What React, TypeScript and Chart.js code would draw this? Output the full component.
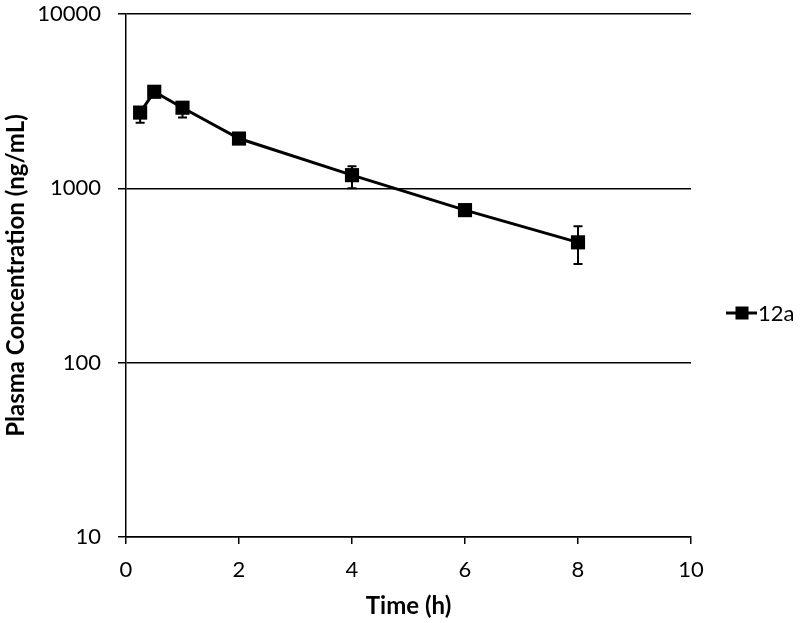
import React, { useEffect, useRef } from "react";
import { Chart, registerables } from "chart.js";

Chart.register(...registerables);

const times = [0.25, 0.5, 1, 2, 4, 6, 8];
const conc = [2720, 3580, 2900, 1930, 1190, 750, 490];
const errUpper = [2720, 3580, 2900, 1930, 1340, 750, 607];
const errLower = [2380, 3580, 2545, 1930, 1000, 750, 368];
const seriesLabel = "12a";
const yTicks = [10, 100, 1000, 10000];
const FONT = "Lato, 'Open Sans', sans-serif";

const errorBarPlugin = {
  id: "errorBars",
  afterDatasetsDraw(chart: any) {
    const { ctx, scales } = chart;
    const x = scales.x;
    const y = scales.y;
    ctx.save();
    ctx.strokeStyle = "#000";
    ctx.lineWidth = 2;
    times.forEach((t, i) => {
      const px = x.getPixelForValue(t);
      const pu = y.getPixelForValue(errUpper[i]);
      const pl = y.getPixelForValue(errLower[i]);
      if (Math.abs(pu - pl) < 1) return;
      ctx.beginPath();
      ctx.moveTo(px, pu);
      ctx.lineTo(px, pl);
      ctx.moveTo(px - 4.5, pu);
      ctx.lineTo(px + 4.5, pu);
      ctx.moveTo(px - 4.5, pl);
      ctx.lineTo(px + 4.5, pl);
      ctx.stroke();
    });
    ctx.restore();
  },
};

const legendPlugin = {
  id: "customLegend",
  afterDraw(chart: any) {
    const { ctx } = chart;
    const ly = 313;
    ctx.save();
    ctx.strokeStyle = "#000";
    ctx.lineWidth = 3;
    ctx.beginPath();
    ctx.moveTo(726, ly);
    ctx.lineTo(757, ly);
    ctx.stroke();
    ctx.fillStyle = "#000";
    ctx.fillRect(742 - 6.5, ly - 6.5, 13, 13);
    ctx.font = `22px ${FONT}`;
    ctx.textBaseline = "middle";
    ctx.textAlign = "left";
    ctx.fillText(chart.data.datasets[0].label, 758, ly + 1);
    ctx.restore();
  },
};

export default function App() {
  const ref = useRef<HTMLCanvasElement>(null);
  useEffect(() => {
    if (!ref.current) return;
    const chart = new Chart(ref.current, {
      type: "line",
      data: {
        datasets: [
          {
            label: seriesLabel,
            data: times.map((t, i) => ({ x: t, y: conc[i] })),
            borderColor: "#000",
            backgroundColor: "#000",
            borderWidth: 3,
            pointStyle: "rect",
            pointRadius: 10,
            pointBorderWidth: 0,
            tension: 0,
          },
        ],
      },
      options: {
        animation: false,
        responsive: false,
        layout: { padding: { top: 14, right: 109, left: 0, bottom: 0 } },
        plugins: { legend: { display: false }, tooltip: { enabled: false } },
        scales: {
          x: {
            type: "linear",
            min: 0,
            max: 10,
            ticks: { stepSize: 2, color: "#000", font: { family: FONT, size: 22 }, padding: 13, maxRotation: 0 },
            grid: { drawOnChartArea: false, drawTicks: true, tickLength: 7, color: "#000", lineWidth: 1.5 },
            border: { color: "#000", width: 1.5 },
            title: {
              display: true,
              text: "Time (h)",
              color: "#000",
              font: { family: FONT, size: 24, weight: "bold" },
              padding: { top: 4, bottom: 2 },
            },
            afterFit(scale: any) {
              scale.height = 86;
              scale.paddingLeft = 0;
              scale.paddingRight = 0;
            },
          },
          y: {
            type: "logarithmic",
            min: 10,
            max: 10000,
            afterBuildTicks(scale: any) {
              scale.ticks = yTicks.map((v) => ({ value: v }));
            },
            ticks: {
              color: "#000",
              font: { family: FONT, size: 22 },
              padding: 17,
              callback: (v: any) => String(v),
            },
            grid: { color: "#000", lineWidth: 1.5, tickLength: 8 },
            border: { color: "#000", width: 1.5 },
            title: {
              display: true,
              text: "Plasma Concentration (ng/mL)",
              color: "#000",
              font: { family: FONT, size: 24, weight: "bold" },
              padding: { top: 2, bottom: 4 },
            },
            afterFit(scale: any) {
              scale.width = 126;
              scale.paddingTop = 0;
              scale.paddingBottom = 0;
            },
          },
        },
      },
      plugins: [errorBarPlugin, legendPlugin],
    });
    return () => chart.destroy();
  }, []);
  return (
    <div style={{ position: "fixed", left: 0, top: 0, width: 800, height: 623, background: "#fff" }}>
      <canvas ref={ref} width={800} height={623} />
    </div>
  );
}
